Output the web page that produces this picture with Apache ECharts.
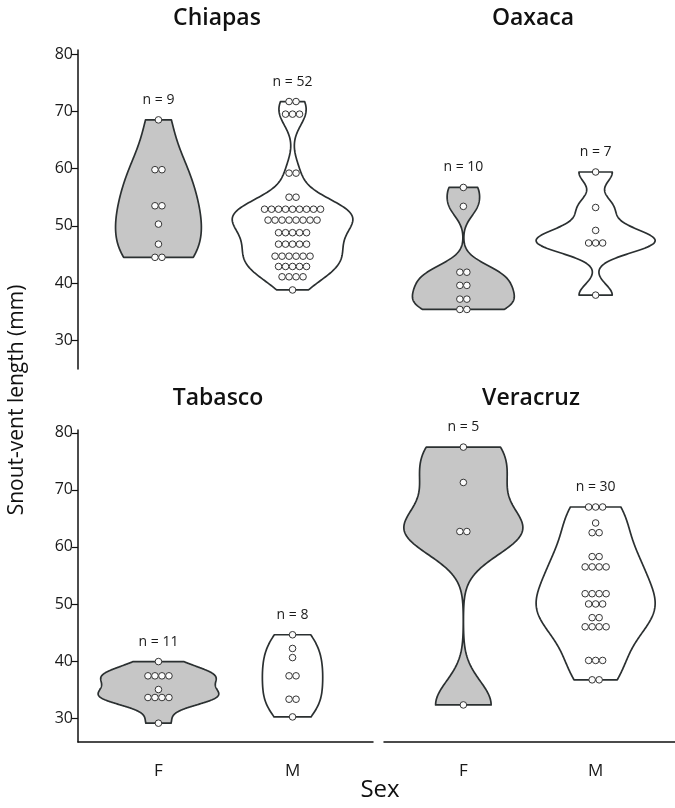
<!DOCTYPE html>
<html>
<head>
<meta charset="utf-8">
<script src="https://cdn.jsdelivr.net/npm/echarts@6/dist/echarts.min.js"></script>
<style>
  html, body { margin: 0; padding: 0; background: #ffffff; }
  #chart { width: 675px; height: 808px; }
</style>
</head>
<body>
<div id="chart"></div>
<script>
// ---------------- data ----------------
const categories = ['F', 'M'];
const panelNames = ['Chiapas', 'Oaxaca', 'Tabasco', 'Veracruz'];
const yTicks = [30, 40, 50, 60, 70, 80];

const chiapasF = [68.5, 59.8, 59.8, 53.5, 53.5, 50.3, 46.8, 44.5, 44.5];
const chiapasM = [71.7, 71.7, 69.5, 69.5, 69.5, 59.2, 59.2, 55.0, 55.0,
  52.9, 52.9, 52.9, 52.9, 52.9, 52.9, 52.9, 52.9, 52.9,
  51.0, 51.0, 51.0, 51.0, 51.0, 51.0, 51.0, 51.0,
  48.8, 48.8, 48.8, 48.8, 48.8,
  46.8, 46.8, 46.8, 46.8, 46.8,
  44.7, 44.7, 44.7, 44.7, 44.7, 44.7,
  42.9, 42.9, 42.9, 42.9, 42.9,
  41.1, 41.1, 41.1, 41.1,
  38.8];
const oaxacaF = [56.7, 53.4, 41.9, 41.9, 39.6, 39.6, 37.2, 37.2, 35.4, 35.4];
const oaxacaM = [59.4, 53.2, 49.2, 47.0, 47.0, 47.0, 37.9];
const tabascoF = [39.9, 37.4, 37.4, 37.4, 37.4, 35.0, 33.6, 33.6, 33.6, 33.6, 29.1];
const tabascoM = [44.6, 42.2, 40.6, 37.4, 37.4, 33.3, 33.3, 30.2];
const veracruzF = [77.5, 71.3, 62.7, 62.7, 32.3];
const veracruzM = [67.0, 67.0, 67.0, 64.2, 62.5, 62.5, 58.3, 58.3,
  56.5, 56.5, 56.5, 56.5, 51.8, 51.8, 51.8, 51.8, 50.0, 50.0, 50.0,
  47.6, 47.6, 46.0, 46.0, 46.0, 46.0, 40.1, 40.1, 40.1, 36.7, 36.7];

const panelData = [
  [chiapasF, chiapasM],
  [oaxacaF, oaxacaM],
  [tabascoF, tabascoM],
  [veracruzF, veracruzM]
];

// ---------------- style / layout ----------------
const FONT = '"Open Sans", "Noto Sans", sans-serif';
const INK = '#1a1a1a';
const VIOLIN_STROKE = '#2b3031';
const FILLS = ['#c6c6c6', '#ffffff'];
// maximum half-width of each violin, in x-axis units (visual style)
const violinHalf = [[0.32, 0.45], [0.385, 0.45], [0.45, 0.225], [0.45, 0.45]];

function quantile7(sorted, p) {
  const h = (sorted.length - 1) * p;
  const lo = Math.floor(h), hi = Math.ceil(h);
  return sorted[lo] + (h - lo) * (sorted[hi] - sorted[lo]);
}
function bwNrd0(x) {
  const n = x.length;
  const mean = x.reduce((a, b) => a + b, 0) / n;
  const sd = Math.sqrt(x.reduce((a, b) => a + (b - mean) * (b - mean), 0) / (n - 1));
  const s = x.slice().sort((a, b) => a - b);
  const iqr = quantile7(s, 0.75) - quantile7(s, 0.25);
  let lo = Math.min(sd, iqr / 1.34);
  if (!(lo > 0)) lo = sd || Math.abs(s[0]) || 1;
  return 0.9 * lo * Math.pow(n, -0.2);
}
function kde(values, steps) {
  const bw = bwNrd0(values);
  const mn = Math.min.apply(null, values), mx = Math.max.apply(null, values);
  const n = values.length;
  const out = [];
  for (let i = 0; i <= steps; i++) {
    const y = mn + (mx - mn) * i / steps;
    let d = 0;
    for (const v of values) {
      const z = (y - v) / bw;
      d += Math.exp(-0.5 * z * z);
    }
    out.push([y, d / (n * bw * Math.sqrt(2 * Math.PI))]);
  }
  return out;
}

function dotRows(values, xPos) {
  const counts = {};
  values.forEach(v => { counts[v] = (counts[v] || 0) + 1; });
  const seen = {};
  return values.map(v => {
    const i = seen[v] || 0;
    seen[v] = i + 1;
    return [xPos, v, i, counts[v]];
  });
}

const grids = [
  { left: 78, top: 50, width: 295, height: 319 },
  { left: 384, top: 50, width: 297, height: 319 },
  { left: 78, top: 430, width: 295, height: 312 },
  { left: 384, top: 430, width: 297, height: 312 }
];
const yRange = [[25, 80.7], [25, 80.7], [25.8, 80.5], [25.8, 80.5]];

const xAxes = grids.map((g, i) => ({
  gridIndex: i, type: 'value', min: 0.4, max: 2.6,
  show: i >= 2,
  axisLine: { show: true, lineStyle: { color: '#111', width: 1.5 } },
  axisTick: { show: false },
  splitLine: { show: false },
  axisLabel: {
    customValues: [1, 2],
    formatter: v => categories[Math.round(v) - 1],
    color: INK, fontSize: 17, fontFamily: FONT, margin: 21
  }
}));
const yAxes = grids.map((g, i) => ({
  gridIndex: i, type: 'value', min: yRange[i][0], max: yRange[i][1],
  show: i === 0 || i === 2,
  axisLine: { show: true, lineStyle: { color: '#111', width: 1.5 } },
  axisTick: { show: true, customValues: yTicks, length: 6, lineStyle: { color: '#111', width: 1.2 } },
  splitLine: { show: false },
  axisLabel: { customValues: yTicks, color: INK, fontSize: 16, fontFamily: FONT, margin: 5 }
}));

const series = [];
panelData.forEach((pair, pi) => {
  pair.forEach((values, si) => {
    const xPos = si + 1;
    const dens = kde(values, 160);
    const dmax = Math.max.apply(null, dens.map(e => e[1]));
    const halfUnits = violinHalf[pi][si];
    // violin
    series.push({
      type: 'custom', xAxisIndex: pi, yAxisIndex: pi, z: 2,
      data: [[xPos, values[0]]],
      renderItem: function (params, api) {
        const half = api.size([halfUnits, 0])[0];
        const right = [], left = [];
        dens.forEach(e => {
          const c = api.coord([xPos, e[0]]);
          const w = e[1] / dmax * half;
          right.push([c[0] + w, c[1]]);
          left.push([c[0] - w, c[1]]);
        });
        return {
          type: 'polygon',
          shape: { points: right.concat(left.reverse()) },
          style: { fill: FILLS[si], stroke: VIOLIN_STROKE, lineWidth: 1.7, lineJoin: 'round' }
        };
      }
    });
    // dots
    series.push({
      type: 'custom', xAxisIndex: pi, yAxisIndex: pi, z: 3,
      data: dotRows(values, xPos),
      renderItem: function (params, api) {
        const c = api.coord([api.value(0), api.value(1)]);
        const dx = (api.value(2) - (api.value(3) - 1) / 2) * 7;
        return {
          type: 'circle',
          shape: { cx: c[0] + dx, cy: c[1], r: 3.3 },
          style: { fill: '#fbfbfb', stroke: '#353535', lineWidth: 1 }
        };
      }
    });
    // n label
    series.push({
      type: 'custom', xAxisIndex: pi, yAxisIndex: pi, z: 4,
      data: [[xPos, Math.max.apply(null, values)]],
      renderItem: function (params, api) {
        const c = api.coord([api.value(0), api.value(1)]);
        return {
          type: 'text',
          style: {
            x: c[0], y: c[1] - 20, text: 'n = ' + values.length,
            textAlign: 'center', textVerticalAlign: 'middle',
            align: 'center', verticalAlign: 'middle',
            font: '14px ' + FONT, fill: INK
          }
        };
      }
    });
  });
});

function label(text, x, y, font, rotation) {
  return {
    type: 'text', x: x, y: y, rotation: rotation || 0,
    style: {
      text: text, font: font, fill: '#111',
      textAlign: 'center', textVerticalAlign: 'middle',
      align: 'center', verticalAlign: 'middle'
    }
  };
}
const titlePos = [[217, 18], [533, 18], [218, 398], [531, 398]];

const option = {
  backgroundColor: '#ffffff',
  animation: false,
  grid: grids,
  xAxis: xAxes,
  yAxis: yAxes,
  series: series,
  graphic: [
    ...panelNames.map((t, i) => label(t, titlePos[i][0], titlePos[i][1], '600 23px ' + FONT)),
    label('Snout-vent length (mm)', 17, 400, '21px ' + FONT, Math.PI / 2),
    label('Sex', 380, 790, '24px ' + FONT)
  ]
};

const chart = echarts.init(document.getElementById('chart'), null, { renderer: 'canvas' });
chart.setOption(option);
</script>
</body>
</html>
